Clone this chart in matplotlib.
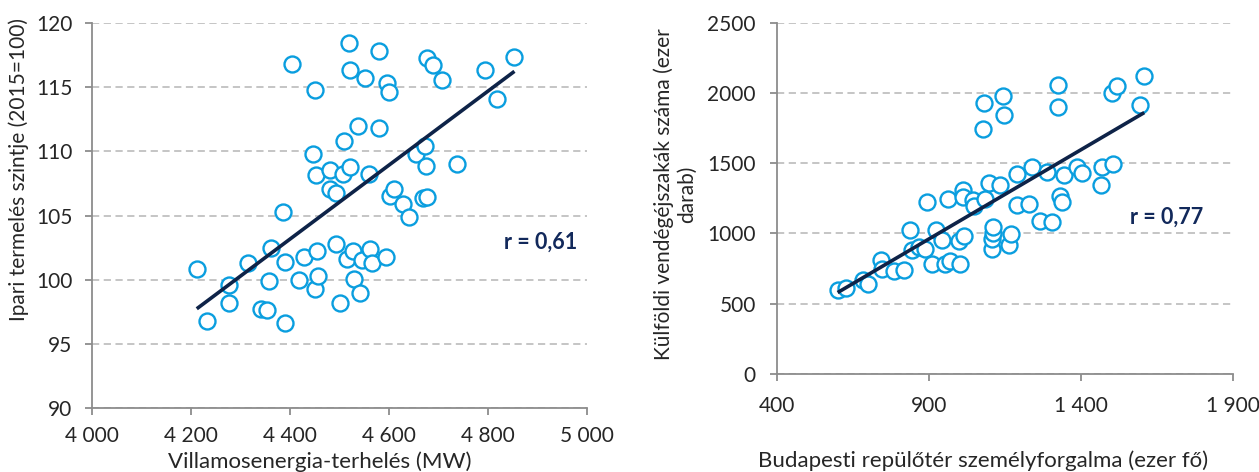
import numpy as np
import matplotlib
matplotlib.use("Agg")
import matplotlib.pyplot as plt

plt.rcParams['font.family'] = ['Lato', 'DejaVu Sans']

# ---------------- data: left panel ----------------
elec_mw = [4212, 4232, 4278, 4278, 4316, 4341, 4354, 4358, 4362, 4385,
           4390, 4391, 4405, 4419, 4428, 4447, 4451, 4450, 4453, 4455,
           4457, 4480, 4481, 4492, 4492, 4500, 4507, 4510, 4515, 4520,
           4521, 4521, 4528, 4529, 4537, 4542, 4545, 4552, 4560, 4562,
           4565, 4579, 4580, 4593, 4596, 4600, 4602, 4610, 4628, 4640,
           4655, 4668, 4673, 4675, 4676, 4677, 4688, 4707, 4737, 4793,
           4818, 4853]
ind_prod = [100.86, 96.82, 99.60, 98.17, 101.28, 97.70, 97.63, 99.88, 102.47, 105.25,
            101.39, 96.62, 116.77, 99.98, 101.80, 109.81, 114.77, 99.31, 108.16, 102.22,
            100.32, 108.57, 107.04, 106.73, 102.76, 98.17, 108.23, 110.83, 101.60, 118.45,
            116.33, 108.75, 102.22, 100.04, 111.99, 98.95, 101.54, 115.68, 108.21, 102.37,
            101.28, 111.79, 117.81, 101.80, 115.29, 114.64, 106.52, 107.09, 105.88, 104.89,
            109.79, 106.39, 110.41, 108.88, 117.24, 106.47, 116.72, 115.55, 108.99, 116.30,
            114.05, 117.36]
left_xticks = [4000, 4200, 4400, 4600, 4800, 5000]
left_xticklabels = ['4 000', '4 200', '4 400', '4 600', '4 800', '5 000']
left_yticks = [90, 95, 100, 105, 110, 115, 120]
left_r = 'r = 0,61'

# ---------------- data: right panel ----------------
airport_pax = [600, 627, 682, 701, 742, 745, 785, 818, 838, 843,
               867, 887, 893, 909, 922, 943, 954, 962, 969, 999,
               1002, 1013, 1011, 1016, 1046, 1048, 1084, 1098, 1134, 1106,
               1106, 1110, 1110, 1163, 1169, 1189, 1230, 1191, 1240, 1265,
               1287, 1306, 1331, 1337, 1345, 1388, 1404, 1466, 1468, 1506,
               1077, 1081, 1145, 1147, 1323, 1323, 1503, 1519, 1595, 1608]
guest_nights = [595, 611, 671, 643, 814, 750, 731, 743, 1023, 880,
                904, 892, 1226, 780, 1023, 951, 785, 1244, 804, 946,
                785, 1308, 1258, 980, 1237, 1194, 1246, 1356, 1343, 892,
                964, 1006, 1046, 916, 999, 1203, 1213, 1425, 1470, 1089,
                1438, 1085, 1265, 1224, 1415, 1470, 1427, 1343, 1474, 1493,
                1745, 1930, 1980, 1842, 2058, 1902, 1997, 2049, 1914, 2120]
right_xticks = [400, 900, 1400, 1900]
right_xticklabels = ['400', '900', '1 400', '1 900']
right_yticks = [0, 500, 1000, 1500, 2000, 2500]
right_r = 'r = 0,77'

# ---------------- style ----------------
W, H = 1259, 472
fig = plt.figure(figsize=(W / 100, H / 100), dpi=100)
fig.patch.set_facecolor('white')

marker_col = '#0A9EDF'
line_col = '#0E2348'
r_col = '#12295B'
axis_col = '#8C8C8C'
grid_col = '#C0C0C0'
text_col = '#262626'
fs_tick = 15
fs_xlab = 16
fs_ylab = 15

def px_ax(x0, y0, x1, y1):
    return fig.add_axes([x0 / W, 1 - y1 / H, (x1 - x0) / W, (y1 - y0) / H])

def style(ax):
    for s in ['top', 'right']:
        ax.spines[s].set_visible(False)
    for s in ['left', 'bottom']:
        ax.spines[s].set_color(axis_col)
        ax.spines[s].set_linewidth(1.3)
    ax.yaxis.grid(True, color=grid_col, linestyle=(0, (4, 2.5)), linewidth=1.3)
    ax.set_axisbelow(True)
    ax.tick_params(axis='both', colors=axis_col, labelcolor=text_col,
                   labelsize=fs_tick, direction='out', length=5, width=1.3)

def scatter_trend(ax, x, y):
    x = np.asarray(x, float)
    y = np.asarray(y, float)
    ax.plot(x, y, linestyle='none', marker='o', markersize=11.5,
            markerfacecolor='white', markeredgecolor=marker_col,
            markeredgewidth=1.7, zorder=3)
    k, b = np.polyfit(x, y, 1)
    xs = np.array([x.min(), x.max()])
    ax.plot(xs, k * xs + b, color=line_col, linewidth=2.6,
            solid_capstyle='butt', zorder=4)

# ---- left panel ----
axL = px_ax(91.7, 22.8, 587.3, 408.3)
style(axL)
scatter_trend(axL, elec_mw, ind_prod)
axL.set_xlim(4000, 5000)
axL.set_ylim(90, 120)
axL.set_xticks(left_xticks)
axL.set_xticklabels(left_xticklabels)
axL.set_yticks(left_yticks)
axL.tick_params(axis='x', pad=8)
axL.tick_params(axis='y', pad=9)
axL.text(0.98, 0.43, left_r, transform=axL.transAxes, ha='right', va='center',
         fontsize=15.5, fontweight='bold', color=r_col)
fig.text(320 / W, 1 - 462 / H, 'Villamosenergia-terhelés (MW)', ha='center',
         va='center', fontsize=fs_xlab, color=text_col)
fig.text(19 / W, 1 - 170 / H, 'Ipari termelés szintje (2015=100)', ha='center',
         va='center', rotation=90, fontsize=fs_ylab, color=text_col)

# ---- right panel ----
axR = px_ax(776.8, 22.7, 1233.1, 374.0)
style(axR)
scatter_trend(axR, airport_pax, guest_nights)
axR.set_xlim(400, 1900)
axR.set_ylim(0, 2500)
axR.set_xticks(right_xticks)
axR.set_xticklabels(right_xticklabels)
axR.set_yticks(right_yticks)
axR.tick_params(axis='x', pad=11)
axR.tick_params(axis='y', pad=10)
axR.text(0.935, 0.445, right_r, transform=axR.transAxes, ha='right', va='center',
         fontsize=15.5, fontweight='bold', color=r_col)
fig.text(983 / W, 1 - 461 / H, 'Budapesti repülőtér személyforgalma (ezer fő)',
         ha='center', va='center', fontsize=fs_xlab, color=text_col)
fig.text(675 / W, 1 - 194 / H, 'Külföldi vendégéjszakák száma (ezer\ndarab)',
         ha='center', va='center', rotation=90, fontsize=fs_ylab, color=text_col,
         linespacing=1.2)

fig.savefig('out.png', dpi=100, facecolor='white')
